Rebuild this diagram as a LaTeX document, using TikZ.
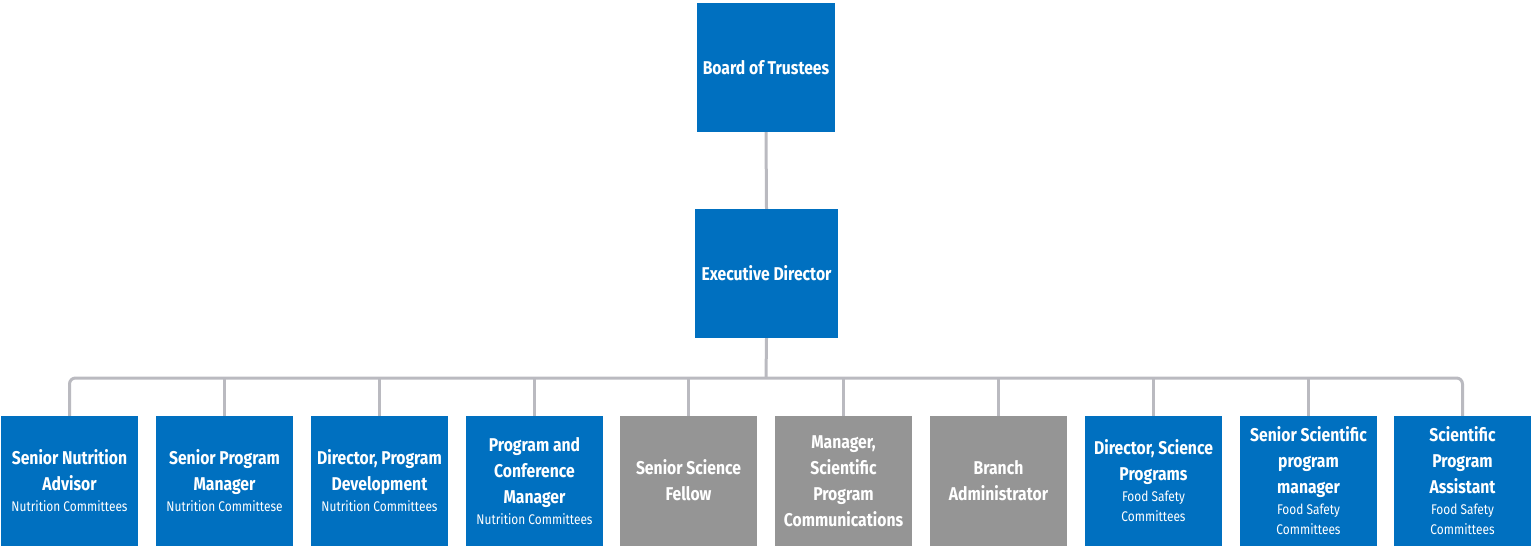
\documentclass[tikz,border=0pt]{standalone}
\usepackage{fontspec}
\setmainfont{Fira Sans}[FakeStretch=0.85]
\definecolor{boxblue}{HTML}{0070C0}
\definecolor{boxgray}{HTML}{959595}
\definecolor{linkgray}{HTML}{BABAC0}
\renewcommand{\arraystretch}{0}
% one title line and one committee line, each with a fixed row height
\newcommand{\roleline}[1]{\rule[-6.5pt]{0pt}{26pt}\fontsize{18.5}{26}\selectfont\bfseries #1}
\newcommand{\groupline}[1]{\rule[-5.5pt]{0pt}{20pt}\fontsize{14}{20}\selectfont\mdseries #1}
\newcommand{\cardtext}[1]{\begin{tabular}{@{}c@{}}#1\end{tabular}}
\tikzset{
  unit/.style={rectangle, fill=boxblue, text=white, inner sep=0pt,
    minimum width=137pt, minimum height=130pt, align=center},
  staff/.style={unit, fill=boxgray},
  link/.style={draw=linkgray, line width=3pt},
}
\begin{document}
\begin{tikzpicture}[x=1pt,y=-1pt]
\useasboundingbox (0,0) rectangle (1531,546);
% top of the hierarchy
\node[unit, minimum width=138pt, minimum height=129pt] (board) at (766,67.5) {\cardtext{\roleline{Board of Trustees}}};
\node[unit, minimum width=143pt, minimum height=129pt] (ed) at (766.5,273.5) {\cardtext{\roleline{Executive Director}}};
% staff row
\node[unit] (b1) at (69.5,481) {\cardtext{\roleline{Senior Nutrition}\\\roleline{Advisor}\\\groupline{Nutrition Committees}}};
\node[unit] (b2) at (224.5,481) {\cardtext{\roleline{Senior Program}\\\roleline{Manager}\\\groupline{Nutrition Committese}}};
\node[unit] (b3) at (379.5,481) {\cardtext{\roleline{Director, Program}\\\roleline{Development}\\\groupline{Nutrition Committees}}};
\node[unit] (b4) at (534.5,481) {\cardtext{\roleline{Program and}\\\roleline{Conference}\\\roleline{Manager}\\\groupline{Nutrition Committees}}};
\node[staff] (b5) at (688.5,481) {\cardtext{\roleline{Senior Science}\\\roleline{Fellow}}};
\node[staff] (b6) at (843.5,481) {\cardtext{\roleline{Manager,}\\\roleline{Scientific}\\\roleline{Program}\\\roleline{Communications}}};
\node[staff] (b7) at (998.5,481) {\cardtext{\roleline{Branch}\\\roleline{Administrator}}};
\node[unit] (b8) at (1153.5,481) {\cardtext{\roleline{Director, Science}\\\roleline{Programs}\\\groupline{Food Safety}\\\groupline{Committees}}};
\node[unit] (b9) at (1308.5,481) {\cardtext{\roleline{Senior Scientific}\\\roleline{program}\\\roleline{manager}\\\groupline{Food Safety}\\\groupline{Committees}}};
\node[unit] (b10) at (1462.5,481) {\cardtext{\roleline{Scientific}\\\roleline{Program}\\\roleline{Assistant}\\\groupline{Food Safety}\\\groupline{Committees}}};
% connectors
\coordinate (bus) at (766,378);
\draw[link] (board.south) -- (ed.north);
\draw[link] (ed.south) -- (bus);
\draw[link, rounded corners=6pt] (b1.north) -- (b1.north |- bus) -- (b10.north |- bus) -- (b10.north);
\foreach \b in {b2,b3,b4,b5,b6,b7,b8,b9}
  \draw[link] (\b.north) -- (\b.north |- bus);
\end{tikzpicture}
\end{document}
